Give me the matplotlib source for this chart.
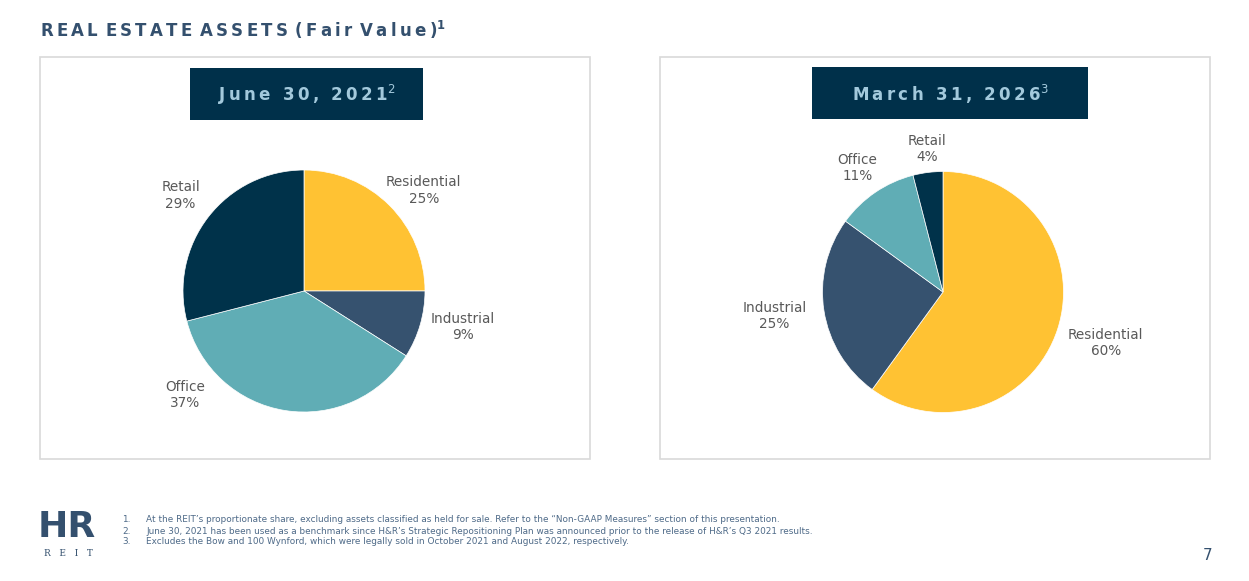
import matplotlib.pyplot as plt
from matplotlib.patches import Rectangle

# chart data
categories = ["Residential", "Industrial", "Office", "Retail"]
share_2021 = [25, 9, 37, 29]
share_2026 = [60, 25, 11, 4]
panel_titles = ["June 30, 2021", "March 31, 2026"]
panel_notes = ["2", "3"]
footnotes = [
    "At the REIT\u2019s proportionate share, excluding assets classified as held for sale. Refer to the \u201cNon-GAAP Measures\u201d section of this presentation.",
    "June 30, 2021 has been used as a benchmark since H&R\u2019s Strategic Repositioning Plan was announced prior to the release of H&R\u2019s Q3 2021 results.",
    "Excludes the Bow and 100 Wynford, which were legally sold in October 2021 and August 2022, respectively.",
]

colors = ["#FFC233", "#36526F", "#60ADB5", "#00324A"]
NAVY = "#00304A"
SLATE = "#34506E"
LABEL = "#595959"

W, H = 1249, 581


def fx(x):
    return x / W


def fy(y):
    return 1 - y / H


def spaced(s, sep="\u200a"):
    # fake letter spacing with hair spaces
    return sep.join(s)


def draw_pie(fig, cx, cy, r, values, label_pos):
    ax = fig.add_axes([fx(cx - r), fy(cy + r), 2 * r / W, 2 * r / H])
    wedges, texts = ax.pie(values, colors=colors, startangle=90, counterclock=False,
                           labels=[f"{c}\n{v}%" for c, v in zip(categories, values)],
                           wedgeprops=dict(edgecolor="white", linewidth=0.5),
                           textprops=dict(color=LABEL, fontsize=9.8, ha="center", va="center",
                                          linespacing=1.2))
    for t, pos in zip(texts, label_pos):
        t.set_position(pos)
        t.set_ha("center")
        t.set_va("center")
    ax.set_xlim(-1, 1)
    ax.set_ylim(-1, 1)
    ax.set_aspect("equal")
    ax.axis("off")
    return ax


fig = plt.figure(figsize=(W / 100, H / 100), dpi=100)
fig.patch.set_facecolor("white")

# page title
title = " \u200a".join(spaced(w, "\u2009") for w in ["REAL", "ESTATE", "ASSETS", "(Fair", "Value)"])
fig.text(fx(40), fy(30), title + r"$^{\mathbf{1}}$",
         fontsize=12, fontweight="bold", color=SLATE, va="center", ha="left")

# panel frames and header boxes
panels = [(40, 590, 190, 423, 68, 120), (660, 1210, 812, 1088, 67, 119)]
for (x0, x1, hx0, hx1, hy0, hy1), ptitle, note in zip(panels, panel_titles, panel_notes):
    fig.add_artist(Rectangle((fx(x0), fy(459)), (x1 - x0) / W, (459 - 57) / H,
                             transform=fig.transFigure, facecolor="none",
                             edgecolor="#D9D9D9", linewidth=1.2))
    fig.add_artist(Rectangle((fx(hx0), fy(hy1)), (hx1 - hx0) / W, (hy1 - hy0) / H,
                             transform=fig.transFigure, facecolor=NAVY, edgecolor="none"))
    fig.text(fx((hx0 + hx1) / 2), fy((hy0 + hy1) / 2 + 1), spaced(ptitle, "\u2009") + f"$^{{{note}}}$",
             fontsize=12, fontweight="bold", color="#A3C9DC", ha="center", va="center")

draw_pie(fig, 304, 291, 121, share_2021,
         [(0.99, 0.83), (1.31, -0.30), (-0.98, -0.86), (-1.02, 0.79)])
draw_pie(fig, 943, 292, 120.5, share_2026,
         [(1.35, -0.42), (-1.40, -0.20), (-0.71, 1.03), (-0.13, 1.19)])

# footnotes
for i, note in enumerate(footnotes):
    y = fy(520 + i * 11)
    fig.text(fx(122), y, f"{i + 1}.", fontsize=6.4, color="#4E6A88", va="center")
    fig.text(fx(146), y, note, fontsize=6.4, color="#4E6A88", va="center")

# logo and page number
fig.text(fx(67), fy(527), "HR", fontsize=26, fontweight="bold", color=SLATE,
         ha="center", va="center")
fig.text(fx(68), fy(553), "R   E   I   T", fontsize=6.5, family="DejaVu Serif", color=SLATE,
         ha="center", va="center")
fig.text(fx(1208), fy(555), "7", fontsize=11, color=SLATE, ha="center", va="center")

fig.savefig("out.png", dpi=100, facecolor="white")
